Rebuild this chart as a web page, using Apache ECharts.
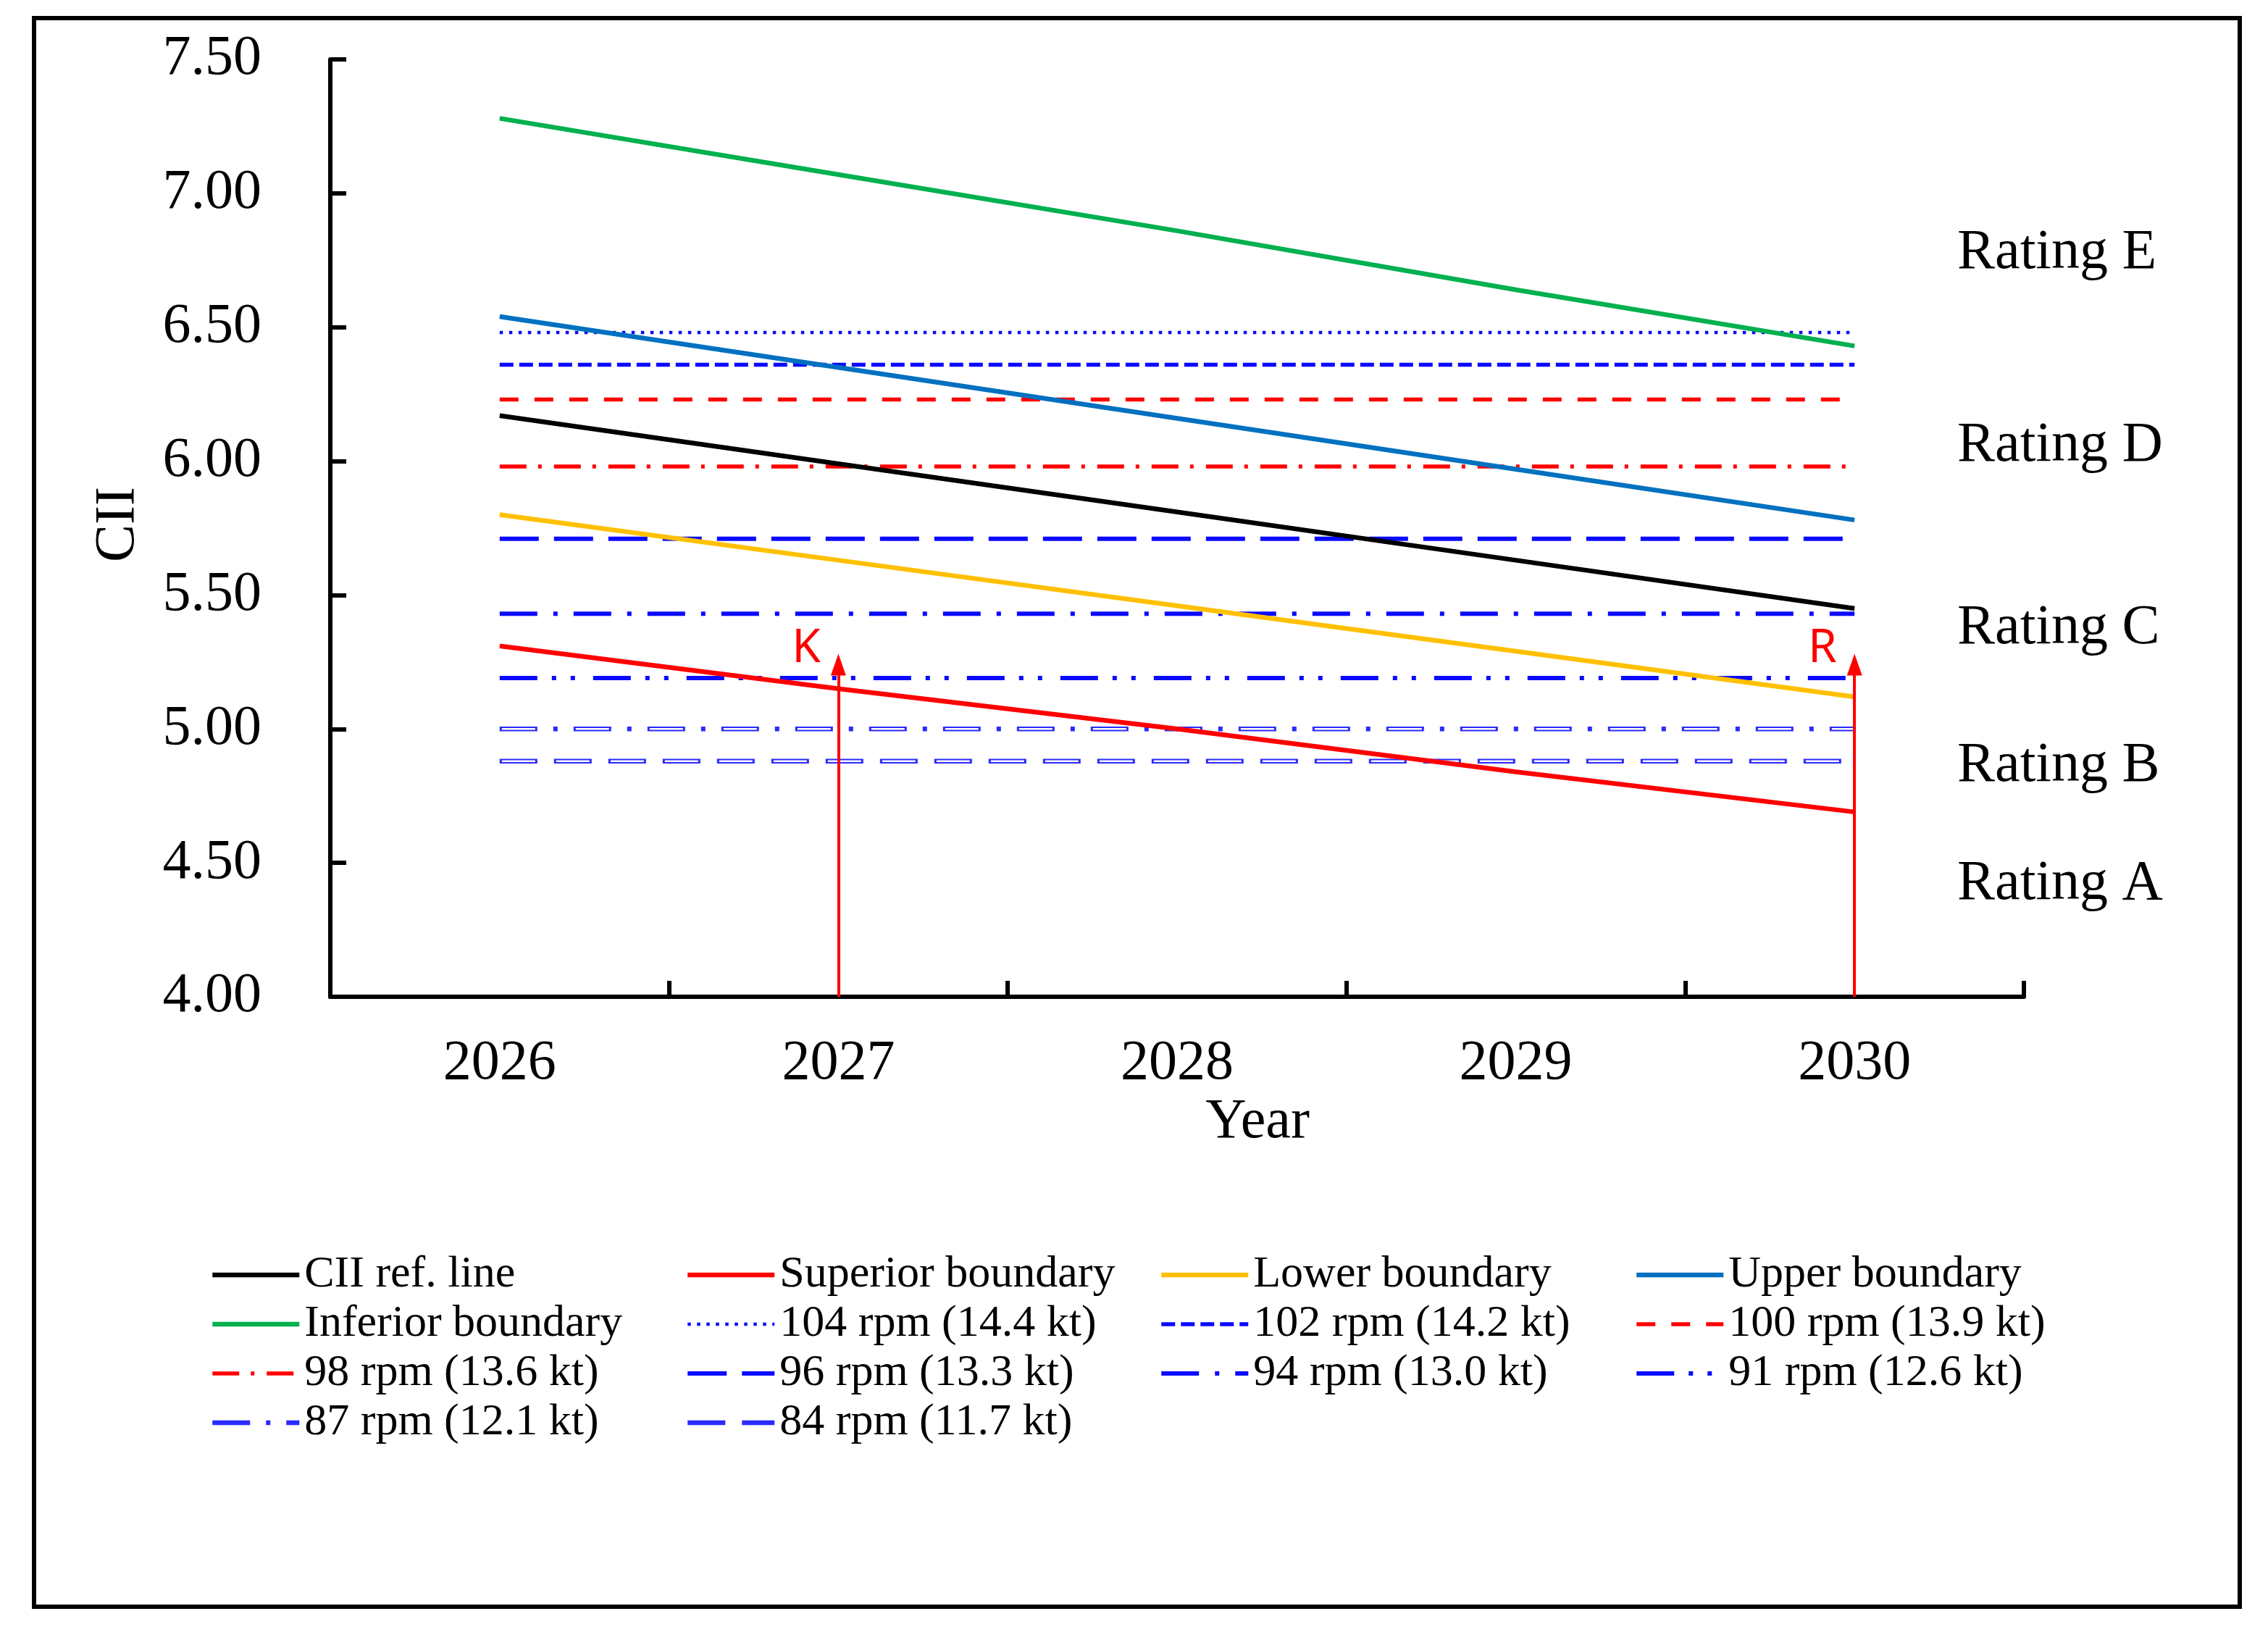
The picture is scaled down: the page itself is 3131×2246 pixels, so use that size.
<!DOCTYPE html>
<html>
<head>
<meta charset="utf-8">
<script src="https://cdn.jsdelivr.net/npm/echarts@6/dist/echarts.min.js"></script>
<style>
html,body{margin:0;padding:0;background:#fff;}
#c{width:3131px;height:2246px;}
</style>
</head>
<body>
<div id="c"></div>
<script>
// ---- data ----
const years = ['2026', '2027', '2028', '2029', '2030'];
const yTicks = [4.0, 4.5, 5.0, 5.5, 6.0, 6.5, 7.0, 7.5];

const ciiRef   = [6.17, 5.99, 5.81, 5.63, 5.45];
const superior = [5.31, 5.15, 5.00, 4.84, 4.69];
const lowerB   = [5.80, 5.63, 5.46, 5.29, 5.12];
const upperB   = [6.54, 6.35, 6.16, 5.97, 5.78];
const inferior = [7.28, 7.07, 6.86, 6.64, 6.43];

const rpm104 = [6.48, 6.48, 6.48, 6.48, 6.48];
const rpm102 = [6.36, 6.36, 6.36, 6.36, 6.36];
const rpm100 = [6.23, 6.23, 6.23, 6.23, 6.23];
const rpm98  = [5.98, 5.98, 5.98, 5.98, 5.98];
const rpm96  = [5.71, 5.71, 5.71, 5.71, 5.71];
const rpm94  = [5.43, 5.43, 5.43, 5.43, 5.43];
const rpm91  = [5.19, 5.19, 5.19, 5.19, 5.19];
const rpm87  = [5.00, 5.00, 5.00, 5.00, 5.00];
const rpm84  = [4.88, 4.88, 4.88, 4.88, 4.88];

const arrowYears = ['2027', '2030'];
const arrowLabels = ['K', 'R'];
const arrowTop = 5.24;
const arrowLabelY = 5.30;

const ratingLabels = ['Rating E', 'Rating D', 'Rating C', 'Rating B', 'Rating A'];

// ---- chart ----
const chart = echarts.init(document.getElementById('c'), null, {renderer: 'canvas', width: 3131, height: 2246});
const serif = '"Liberation Serif", "Times New Roman", serif';
const BLUE = '#0a0aff';
const BLUE2 = '#2a2aff';

function ln(name, data, color, width, type, extra) {
  return Object.assign({
    name: name, type: 'line', data: data, symbol: 'none', showSymbol: false,
    lineStyle: {color: color, width: width, type: type, cap: 'butt'},
    itemStyle: {color: color},
    emphasis: {disabled: true}, silent: true, animation: false
  }, extra || {});
}

const series = [
  ln('104 rpm (14.4 kt)', rpm104, BLUE, 4.5, [4.5, 8.5]),
  ln('102 rpm (14.2 kt)', rpm102, BLUE, 5.5, [19, 8]),
  ln('100 rpm (13.9 kt)', rpm100, '#ff0000', 5.5, [26, 22]),
  ln('98 rpm (13.6 kt)', rpm98, '#ff0000', 5.5, [37, 16, 5, 17]),
  ln('96 rpm (13.3 kt)', rpm96, BLUE, 6, [54, 21]),
  ln('94 rpm (13.0 kt)', rpm94, BLUE, 6, [52, 22, 6, 22]),
  ln('91 rpm (12.6 kt)', rpm91, BLUE, 6, [52, 20, 6, 20, 6, 25]),
  ln('87 rpm (12.1 kt)', rpm87, BLUE2, 6.5, [52, 22, 6, 22]),
  ln('87w', rpm87, '#ffffff', 2.5, [46, 56], {lineStyle: {color: '#ffffff', width: 2.5, type: [46, 56], dashOffset: 99, cap: 'butt'}}),
  ln('84 rpm (11.7 kt)', rpm84, BLUE2, 6.5, [52, 23]),
  ln('84w', rpm84, '#ffffff', 2.5, [46, 29], {lineStyle: {color: '#ffffff', width: 2.5, type: [46, 29], dashOffset: 72, cap: 'butt'}}),
  ln('Inferior boundary', inferior, '#00b050', 6.5, 'solid'),
  ln('Upper boundary', upperB, '#0070c0', 6.5, 'solid'),
  ln('Lower boundary', lowerB, '#ffc000', 6.5, 'solid'),
  ln('CII ref. line', ciiRef, '#000000', 6.5, 'solid'),
  ln('Superior boundary', superior, '#ff0000', 6.5, 'solid', {
    markLine: {
      silent: true, animation: false,
      symbol: ['none', 'triangle'], symbolSize: [21, 30],
      lineStyle: {color: '#ff0000', width: 4, type: 'solid'},
      label: {show: false},
      emphasis: {disabled: true},
      data: arrowYears.map(function (y) { return [{coord: [y, yTicks[0]]}, {coord: [y, arrowTop]}]; })
    },
    markPoint: {
      silent: true, animation: false,
      symbol: 'circle', symbolSize: 1,
      itemStyle: {color: 'rgba(0,0,0,0)'},
      label: {show: true, position: 'left', distance: 24, color: '#ff0000',
              fontFamily: '"Noto Sans", "Open Sans", sans-serif', fontSize: 64},
      data: arrowYears.map(function (y, i) {
        return {coord: [y, arrowLabelY], label: {formatter: arrowLabels[i]}};
      })
    }
  })
];

const legendCols = [
  ['CII ref. line', 'Inferior boundary', '98 rpm (13.6 kt)', '87 rpm (12.1 kt)'],
  ['Superior boundary', '104 rpm (14.4 kt)', '96 rpm (13.3 kt)', '84 rpm (11.7 kt)'],
  ['Lower boundary', '102 rpm (14.2 kt)', '94 rpm (13.0 kt)'],
  ['Upper boundary', '100 rpm (13.9 kt)', '91 rpm (12.6 kt)']
];
const legendLeft = [290, 946, 1600, 2256];

const legends = legendCols.map(function (col, i) {
  return {
    data: col, orient: 'vertical', left: legendLeft[i], top: 1726,
    itemWidth: 120, itemHeight: 14, itemGap: 0, padding: 0,
    selectedMode: false,
    itemStyle: {opacity: 0},
    lineStyle: {width: 'inherit', type: 'inherit', color: 'inherit'},
    textStyle: {fontFamily: serif, fontSize: 62, color: '#000', lineHeight: 68, padding: [0, 0, 0, 2]}
  };
});

const ratingY = [350, 616, 868, 1058, 1221];

const option = {
  backgroundColor: '#ffffff',
  animation: false,
  grid: {left: 456, right: 337, top: 82, bottom: 870, containLabel: false},
  legend: legends,
  xAxis: {
    type: 'category', data: years, boundaryGap: true,
    axisLine: {show: true, lineStyle: {color: '#000', width: 6}},
    axisTick: {show: true, inside: true, length: 22, lineStyle: {color: '#000', width: 6}},
    axisLabel: {fontFamily: serif, fontSize: 78, color: '#000', margin: 54},
    splitLine: {show: false}
  },
  yAxis: {
    type: 'value', min: yTicks[0], max: yTicks[yTicks.length - 1], interval: 0.5,
    axisLine: {show: true, lineStyle: {color: '#000', width: 6}},
    axisTick: {show: true, inside: true, length: 22, lineStyle: {color: '#000', width: 6}},
    axisLabel: {fontFamily: serif, fontSize: 78, color: '#000', margin: 95,
                formatter: function (v) { return v.toFixed(2); }},
    splitLine: {show: false}
  },
  graphic: [
    {type: 'rect', shape: {x: 47, y: 25, width: 3045, height: 2193}, style: {fill: 'none', stroke: '#000', lineWidth: 6}, silent: true},
    {type: 'text', x: 164, y: 724, rotation: Math.PI / 2, style: {text: 'CII', font: '78px ' + serif, fill: '#000', textAlign: 'center', textVerticalAlign: 'middle'}, silent: true},
    {type: 'text', x: 1736, y: 1550, style: {text: 'Year', font: '78px ' + serif, fill: '#000', textAlign: 'center', textVerticalAlign: 'middle'}, silent: true}
  ].concat(ratingLabels.map(function (t, i) {
    return {type: 'text', x: 2702, y: ratingY[i], style: {text: t, font: '78px ' + serif, fill: '#000', textAlign: 'left', textVerticalAlign: 'middle'}, silent: true};
  })),
  series: series
};
chart.setOption(option);
</script>
</body>
</html>
